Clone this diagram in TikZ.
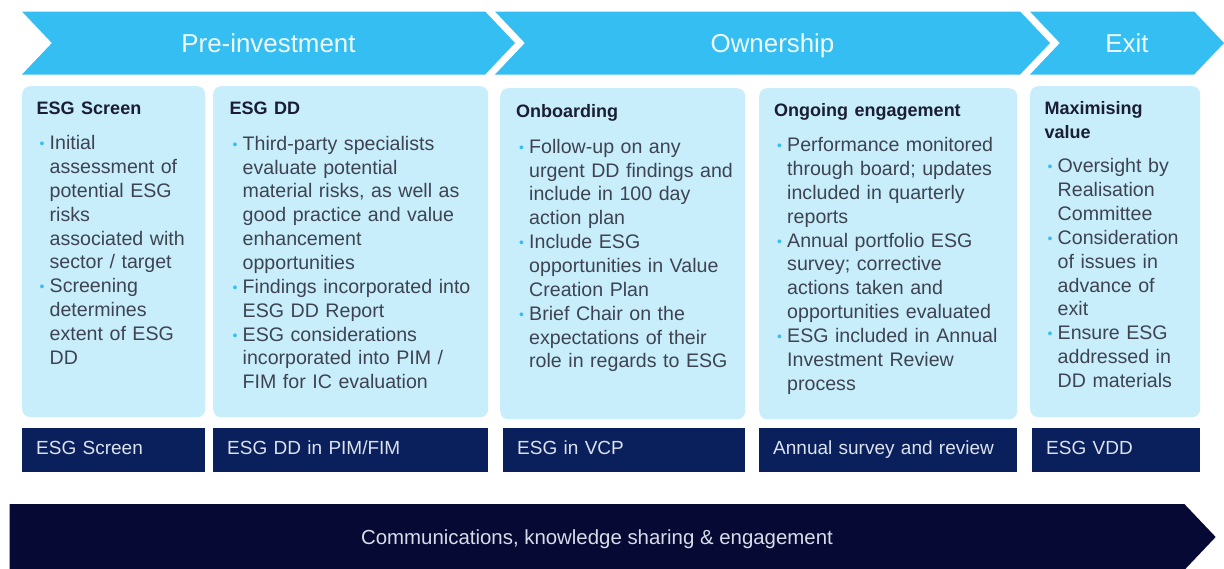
\documentclass[tikz,border=0pt]{standalone}
\usepackage{fontspec}
\setmainfont{Liberation Sans}
\usepackage{xcolor}
\usepackage{tikz}
\usetikzlibrary{positioning, shapes.symbols}
\definecolor{skyblue}{HTML}{35BEF2}
\definecolor{panelblue}{HTML}{C8EEFC}
\definecolor{navy}{HTML}{0A205C}
\definecolor{ink}{HTML}{060933}
\definecolor{bodygrey}{HTML}{3E4352}
\definecolor{headink}{HTML}{1A1D33}
\definecolor{phasetext}{HTML}{EEF9FE}
\definecolor{tagtext}{HTML}{DCE2EE}
\definecolor{flowtext}{HTML}{D8DCE8}

\newcommand{\bul}{\hspace*{3pt}\makebox[10pt][l]{\raisebox{1pt}{\textcolor{skyblue}{\fontsize{14}{14}\selectfont\textbullet}}}}
\newcommand{\ind}{\hspace*{13pt}}
\newcommand{\hd}[1]{{\fontsize{18}{23.85}\selectfont\bfseries\color{headink}#1}}

\begin{document}
\begin{tikzpicture}[
  x=1pt, y=-1pt,
  phase/.style={signal, signal from=west, signal to=east, signal pointer angle=93, fill=skyblue, text=phasetext, minimum height=63pt, inner sep=0pt, text height=18.6pt, text depth=0pt, font=\fontsize{25.9}{30}\selectfont},
  panel/.style={anchor=north west, fill=panelblue, rounded corners=8pt, inner sep=0pt, minimum height=331pt},
  notes/.style={anchor=north west, inner sep=0pt, text width=250pt, align=left, text=bodygrey, font=\fontsize{19.6}{23.85}\selectfont},
  tag/.style={fill=navy, text=tagtext, inner xsep=14pt, inner ysep=0pt, minimum height=44pt, text height=13.7pt, text depth=4pt, align=left, font=\fontsize{19}{23}\selectfont},
  flow/.style={signal, signal to=east, signal pointer angle=93, fill=ink, text=flowtext, minimum height=66pt, inner sep=0pt, text height=14.7pt, text depth=0pt, font=\fontsize{20.4}{24}\selectfont}
]
\useasboundingbox (0,0) rectangle (1224,568);

% phases
\node[phase, minimum width=493pt] (pre) at (268.5,43) {Pre-investment};
\node[phase, minimum width=555pt] (own) at (772.5,43) {Ownership};
\node[phase, minimum width=194pt] (exit) at (1127,43) {Exit};

% panels
\node[panel, minimum width=183pt] (scr) at (22,86) {};
\node[panel, minimum width=275pt] (dd) at (213,86) {};
\node[panel, minimum width=245pt] (onb) at (500,88) {};
\node[panel, minimum width=258pt] (ong) at (759,88) {};
\node[panel, minimum width=170pt] (exv) at (1030,86) {};

\node[notes] (scrtxt) at (36.5,97.3) {\strut\hd{ESG Screen}\\[11.7pt]
\bul Initial\\
\ind assessment of\\
\ind potential ESG\\
\ind risks\\
\ind associated with\\
\ind sector / target\\
\bul Screening\\
\ind determines\\
\ind extent of ESG\\
\ind DD};

\node[notes] (ddtxt) at (229.5,97.8) {\strut\hd{ESG DD}\\[11.7pt]
\bul Third-party specialists\\
\ind evaluate potential\\
\ind material risks, as well as\\
\ind good practice and value\\
\ind enhancement\\
\ind opportunities\\
\bul Findings incorporated into\\
\ind ESG DD Report\\
\bul ESG considerations\\
\ind incorporated into PIM /\\
\ind FIM for IC evaluation};

\node[notes] (onbtxt) at (516,100.8) {\strut\hd{Onboarding}\\[11.7pt]
\bul Follow-up on any\\
\ind urgent DD findings and\\
\ind include in 100 day\\
\ind action plan\\
\bul Include ESG\\
\ind opportunities in Value\\
\ind Creation Plan\\
\bul Brief Chair on the\\
\ind expectations of their\\
\ind role in regards to ESG};

\node[notes] (ongtxt) at (774,99.3) {\strut\hd{Ongoing engagement}\\[11.7pt]
\bul Performance monitored\\
\ind through board; updates\\
\ind included in quarterly\\
\ind reports\\
\bul Annual portfolio ESG\\
\ind survey; corrective\\
\ind actions taken and\\
\ind opportunities evaluated\\
\bul ESG included in Annual\\
\ind Investment Review\\
\ind process};

\node[notes] (exvtxt) at (1044.5,97.3) {\strut\hd{Maximising\\value}\\[11pt]
\bul Oversight by\\
\ind Realisation\\
\ind Committee\\
\bul Consideration\\
\ind of issues in\\
\ind advance of\\
\ind exit\\
\bul Ensure ESG\\
\ind addressed in\\
\ind DD materials};

% outputs
\node[tag, text width=155pt, below=10pt of scr.south west, anchor=north west] (tscr) {ESG Screen};
\node[tag, text width=247pt, below=10pt of dd.south west, anchor=north west] (tdd) {ESG DD in PIM/FIM};
\node[tag, text width=214pt, below=8pt of onb.south west, anchor=north west, xshift=3pt] (tonb) {ESG in VCP};
\node[tag, text width=230pt, below=8pt of ong.south west, anchor=north west] (tong) {Annual survey and review};
\node[tag, text width=140pt, below=10pt of exv.south west, anchor=north west, xshift=2pt] (texv) {ESG VDD};

% comms
\node[flow, minimum width=1206pt] (comms) at (597,537) {Communications, knowledge sharing \& engagement};
\end{tikzpicture}
\end{document}
